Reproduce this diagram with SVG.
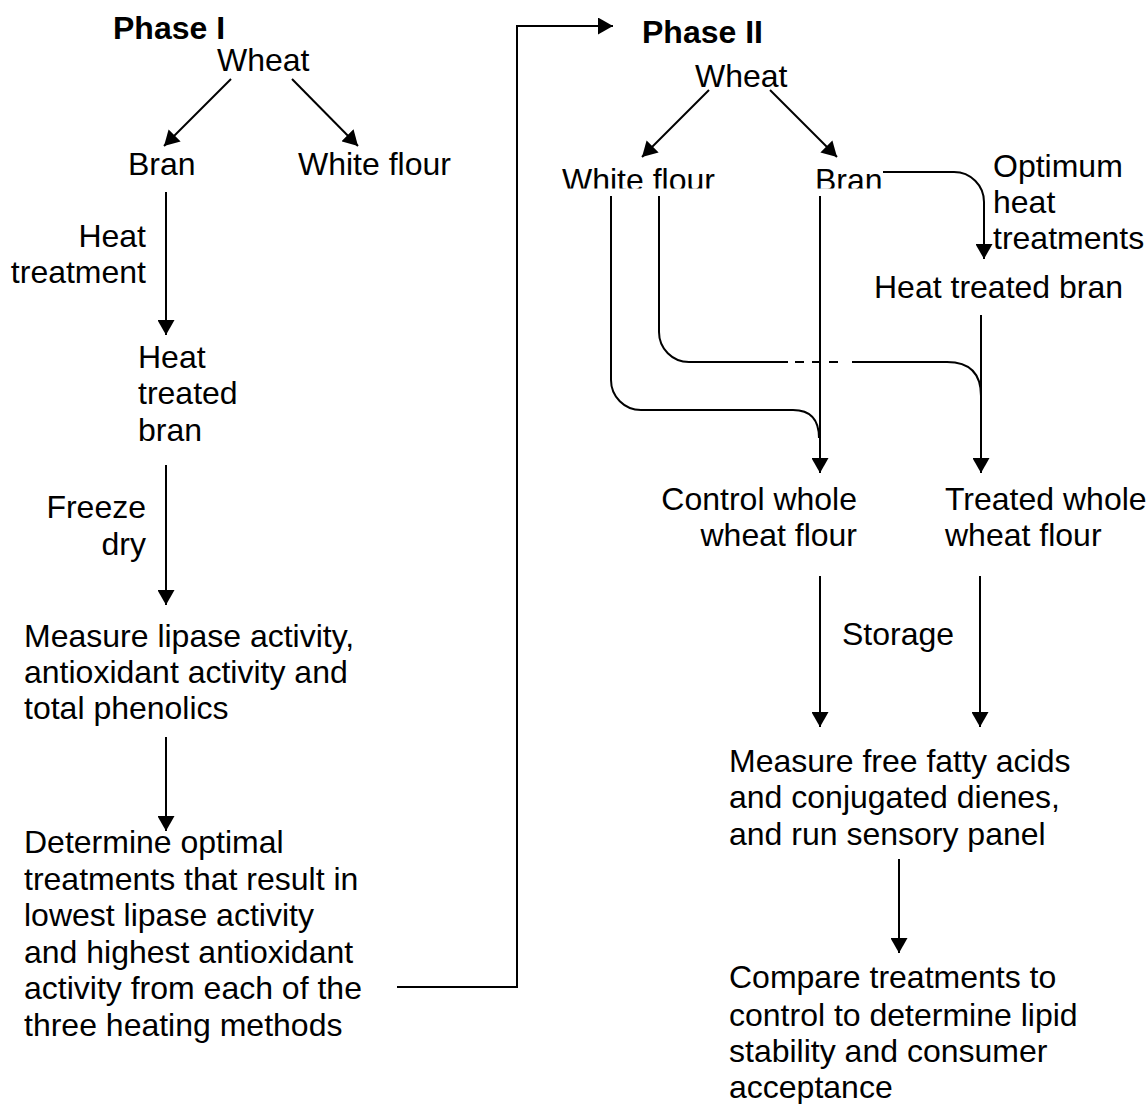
<svg xmlns="http://www.w3.org/2000/svg" width="1148" height="1104" viewBox="0 0 1148 1104">
  <style>
    text { font-family: "Liberation Sans", Arial, sans-serif; font-size: 32px; fill: #000; }
    .b { font-weight: bold; }
    .end { text-anchor: end; }
    .c { fill: none; stroke: #000; stroke-width: 2; }
    .a { marker-end: url(#arr); }
    .d { stroke-dasharray: 9 8; }
  </style>
  <defs>
    <marker id="arr" viewBox="0 0 15 17" refX="15" refY="8.5" markerWidth="15" markerHeight="17" markerUnits="userSpaceOnUse" orient="auto">
      <path d="M0,0 L15,8.5 L0,17 z" fill="#000"/>
    </marker>
    <clipPath id="cut">
      <rect x="0" y="0" width="1148" height="188.5"/>
    </clipPath>
  </defs>
  <rect width="1148" height="1104" fill="#fff"/>

  <g id="connectors">
    <!-- Phase I -->
    <line class="c a" x1="231" y1="79" x2="164" y2="146"/>
    <line class="c a" x1="292" y1="79" x2="358" y2="146"/>
    <line class="c a" x1="166" y1="192" x2="166" y2="335"/>
    <line class="c a" x1="166" y1="465" x2="166" y2="605"/>
    <line class="c a" x1="166" y1="737" x2="166" y2="831"/>
    <path class="c a" d="M397,987 H517 V26 H613"/>
    <!-- Phase II -->
    <line class="c a" x1="709" y1="90" x2="642" y2="157"/>
    <line class="c a" x1="770" y1="90" x2="837" y2="157"/>
    <path class="c a" d="M883,172 H954 A30,30 0 0 1 984,202 V259"/>
    <path class="c" d="M611,196 V380 A30,30 0 0 0 641,410 H793 Q819,410 819,438"/>
    <line class="c a" x1="820" y1="196" x2="820" y2="473"/>
    <path class="c" d="M659,196 V332 A30,30 0 0 0 689,362 H788"/>
    <line class="c d" x1="795" y1="362" x2="846" y2="362"/>
    <path class="c" d="M852,362 H947 Q981,362 981,396"/>
    <line class="c a" x1="981" y1="315" x2="981" y2="473"/>
    <line class="c a" x1="820" y1="576" x2="820" y2="727"/>
    <line class="c a" x1="980" y1="576" x2="980" y2="727"/>
    <line class="c a" x1="899" y1="859" x2="899" y2="953"/>
  </g>

  <g id="phase1-title"><text class="b" x="113" y="39">Phase I</text></g>
  <g id="p1-wheat"><text x="217" y="71">Wheat</text></g>
  <g id="p1-bran"><text x="128" y="175">Bran</text></g>
  <g id="p1-whiteflour"><text x="298" y="175">White flour</text></g>
  <g id="p1-heat-treatment-label">
    <text class="end" x="146" y="247">Heat</text>
    <text class="end" x="146" y="283">treatment</text>
  </g>
  <g id="p1-heat-treated-bran">
    <text x="138" y="368">Heat</text>
    <text x="138" y="404">treated</text>
    <text x="138" y="441">bran</text>
  </g>
  <g id="p1-freeze-dry-label">
    <text class="end" x="146" y="518">Freeze</text>
    <text class="end" x="146" y="555">dry</text>
  </g>
  <g id="p1-measure">
    <text x="24" y="647">Measure lipase activity,</text>
    <text x="24" y="683">antioxidant activity and</text>
    <text x="24" y="719">total phenolics</text>
  </g>
  <g id="p1-determine">
    <text x="24" y="853">Determine optimal</text>
    <text x="24" y="890">treatments that result in</text>
    <text x="24" y="926">lowest lipase activity</text>
    <text x="24" y="963">and highest antioxidant</text>
    <text x="24" y="999">activity from each of the</text>
    <text x="24" y="1036">three heating methods</text>
  </g>

  <g id="phase2-title"><text class="b" x="642" y="43">Phase II</text></g>
  <g id="p2-wheat"><text x="695" y="87">Wheat</text></g>
  <g id="p2-whiteflour"><text x="562" y="191" clip-path="url(#cut)">White flour</text></g>
  <g id="p2-bran"><text x="815" y="191" clip-path="url(#cut)">Bran</text></g>
  <g id="p2-optimum-label">
    <text x="993" y="177">Optimum</text>
    <text x="993" y="213">heat</text>
    <text x="993" y="249">treatments</text>
  </g>
  <g id="p2-heat-treated-bran"><text x="874" y="298">Heat treated bran</text></g>
  <g id="p2-control">
    <text class="end" x="857" y="510">Control whole</text>
    <text class="end" x="857" y="546">wheat flour</text>
  </g>
  <g id="p2-treated">
    <text x="945" y="510">Treated whole</text>
    <text x="945" y="546">wheat flour</text>
  </g>
  <g id="p2-storage-label"><text x="842" y="645">Storage</text></g>
  <g id="p2-measure">
    <text x="729" y="772">Measure free fatty acids</text>
    <text x="729" y="808">and conjugated dienes,</text>
    <text x="729" y="845">and run sensory panel</text>
  </g>
  <g id="p2-compare">
    <text x="729" y="988">Compare treatments to</text>
    <text x="729" y="1026">control to determine lipid</text>
    <text x="729" y="1062">stability and consumer</text>
    <text x="729" y="1098">acceptance</text>
  </g>
</svg>
